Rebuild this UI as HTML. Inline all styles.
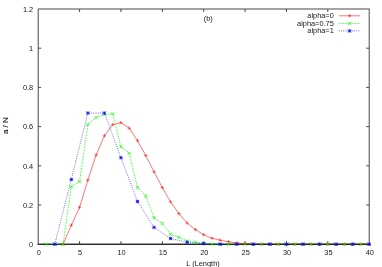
<!DOCTYPE html><html><head><meta charset="utf-8"><style>html,body{margin:0;padding:0;background:#fff;}body{width:382px;height:267px;position:relative;overflow:hidden;font-family:"Liberation Sans",sans-serif;}</style></head><body><svg width="382" height="267" viewBox="0 0 382 267" style="position:absolute;left:0;top:0;filter:blur(0.25px)">
<g stroke="#000000" stroke-width="1" fill="none" opacity="0.72">
<rect x="38.2" y="9.0" width="331.0" height="235.2"/>
<path d="M79.58 244.2v-3M79.58 9.0v3"/>
<path d="M120.95 244.2v-3M120.95 9.0v3"/>
<path d="M162.32 244.2v-3M162.32 9.0v3"/>
<path d="M203.70 244.2v-3M203.70 9.0v3"/>
<path d="M245.07 244.2v-3M245.07 9.0v3"/>
<path d="M286.45 244.2v-3M286.45 9.0v3"/>
<path d="M327.82 244.2v-3M327.82 9.0v3"/>
<path d="M38.2 205.00h3M369.2 205.00h-3"/>
<path d="M38.2 165.80h3M369.2 165.80h-3"/>
<path d="M38.2 126.60h3M369.2 126.60h-3"/>
<path d="M38.2 87.40h3M369.2 87.40h-3"/>
<path d="M38.2 48.20h3M369.2 48.20h-3"/>
</g>
<polyline points="63.03,244.20 71.30,225.19 79.58,207.35 87.85,180.11 96.12,155.02 104.40,135.81 112.68,124.64 120.95,122.68 129.23,128.17 137.50,140.71 145.78,155.49 154.05,171.88 162.32,187.56 170.60,201.86 178.88,213.62 187.15,223.03 195.43,229.60 203.70,234.67 211.98,238.18 220.25,240.20 228.53,241.71 236.80,242.97 245.07,243.61 253.35,244.20 261.62,244.20 269.90,244.20 278.18,244.20 286.45,244.20 294.73,244.20 303.00,244.20 311.27,244.20 319.55,244.20 327.82,244.20 336.10,244.20 344.38,244.20 352.65,244.20 360.93,244.20 369.20,244.20" fill="none" stroke="#ff0000" stroke-width="0.7" opacity="0.78"/>
<polyline points="46.48,244.20 54.75,244.20 63.03,244.20 71.30,186.77 79.58,181.48 87.85,124.44 96.12,117.58 104.40,114.45 112.68,113.86 120.95,146.79 129.23,153.26 137.50,187.56 145.78,196.18 154.05,217.74 162.32,223.42 170.60,234.30 178.88,237.34 187.15,241.06 195.43,242.24 203.70,243.22 211.98,244.20 220.25,244.20 228.53,244.20 236.80,244.20 245.07,244.20 253.35,244.20 261.62,244.20 269.90,244.20 278.18,244.20 286.45,244.20 294.73,244.20 303.00,244.20 311.27,244.20 319.55,244.20 327.82,244.20 336.10,244.20 344.38,244.20 352.65,244.20 360.93,244.20 369.20,244.20" fill="none" stroke="#00ff00" stroke-width="0.8" stroke-dasharray="2 1.1" opacity="0.8"/>
<polyline points="54.75,244.20 71.30,179.52 87.85,113.08 104.40,113.08 120.95,157.76 137.50,201.47 154.05,227.34 170.60,238.52 187.15,242.24 203.70,243.61 220.25,244.20 236.80,244.20 253.35,244.20 269.90,244.20 286.45,244.20 303.00,244.20 319.55,244.20 336.10,244.20 352.65,244.20 369.20,244.20" fill="none" stroke="#0000ff" stroke-width="0.9" stroke-dasharray="0.9 1.3" opacity="0.7"/>
<path d="M37.7 244.2H232.66" stroke="#000" stroke-width="1.05" opacity="0.85"/><path d="M232.66 244.2H369.7" stroke="#1a0000" stroke-width="1.15" opacity="0.9"/>
<path fill="none" stroke="#ff0000" stroke-width="0.7" opacity="0.8" d="M61.33 244.20h3.4M63.03 242.50v3.4M69.60 225.19h3.4M71.30 223.49v3.4M77.88 207.35h3.4M79.58 205.65v3.4M86.15 180.11h3.4M87.85 178.41v3.4M94.42 155.02h3.4M96.12 153.32v3.4M102.70 135.81h3.4M104.40 134.11v3.4M110.98 124.64h3.4M112.68 122.94v3.4M119.25 122.68h3.4M120.95 120.98v3.4M127.53 128.17h3.4M129.23 126.47v3.4M135.80 140.71h3.4M137.50 139.01v3.4M144.08 155.49h3.4M145.78 153.79v3.4M152.35 171.88h3.4M154.05 170.18v3.4M160.62 187.56h3.4M162.32 185.86v3.4M168.90 201.86h3.4M170.60 200.16v3.4M177.18 213.62h3.4M178.88 211.92v3.4M185.45 223.03h3.4M187.15 221.33v3.4M193.73 229.60h3.4M195.43 227.90v3.4M202.00 234.67h3.4M203.70 232.97v3.4M210.28 238.18h3.4M211.98 236.48v3.4M218.55 240.20h3.4M220.25 238.50v3.4M226.83 241.71h3.4M228.53 240.01v3.4M235.10 242.97h3.4M236.80 241.27v3.4M243.38 243.61h3.4M245.07 241.91v3.4M251.65 244.20h3.4M253.35 242.50v3.4M259.93 244.20h3.4M261.62 242.50v3.4M268.20 244.20h3.4M269.90 242.50v3.4M276.48 244.20h3.4M278.18 242.50v3.4M284.75 244.20h3.4M286.45 242.50v3.4M293.03 244.20h3.4M294.73 242.50v3.4M301.30 244.20h3.4M303.00 242.50v3.4M309.57 244.20h3.4M311.27 242.50v3.4M317.85 244.20h3.4M319.55 242.50v3.4M326.12 244.20h3.4M327.82 242.50v3.4M334.40 244.20h3.4M336.10 242.50v3.4M342.68 244.20h3.4M344.38 242.50v3.4M350.95 244.20h3.4M352.65 242.50v3.4M359.23 244.20h3.4M360.93 242.50v3.4M367.50 244.20h3.4M369.20 242.50v3.4M347.90 15.80h3.4M349.60 14.10v3.4"/>
<path fill="none" stroke="#00ff00" stroke-width="0.8" opacity="0.9" d="M44.88 242.60l3.2 3.2M44.88 245.80l3.2 -3.2M53.15 242.60l3.2 3.2M53.15 245.80l3.2 -3.2M61.43 242.60l3.2 3.2M61.43 245.80l3.2 -3.2M69.70 185.17l3.2 3.2M69.70 188.37l3.2 -3.2M77.98 179.88l3.2 3.2M77.98 183.08l3.2 -3.2M86.25 122.84l3.2 3.2M86.25 126.04l3.2 -3.2M94.53 115.98l3.2 3.2M94.53 119.18l3.2 -3.2M102.80 112.85l3.2 3.2M102.80 116.05l3.2 -3.2M111.08 112.26l3.2 3.2M111.08 115.46l3.2 -3.2M119.35 145.19l3.2 3.2M119.35 148.39l3.2 -3.2M127.63 151.66l3.2 3.2M127.63 154.86l3.2 -3.2M135.90 185.96l3.2 3.2M135.90 189.16l3.2 -3.2M144.18 194.58l3.2 3.2M144.18 197.78l3.2 -3.2M152.45 216.14l3.2 3.2M152.45 219.34l3.2 -3.2M160.72 221.82l3.2 3.2M160.72 225.02l3.2 -3.2M169.00 232.70l3.2 3.2M169.00 235.90l3.2 -3.2M177.28 235.74l3.2 3.2M177.28 238.94l3.2 -3.2M185.55 239.46l3.2 3.2M185.55 242.66l3.2 -3.2M193.83 240.64l3.2 3.2M193.83 243.84l3.2 -3.2M202.10 241.62l3.2 3.2M202.10 244.82l3.2 -3.2M210.38 242.60l3.2 3.2M210.38 245.80l3.2 -3.2M218.65 242.60l3.2 3.2M218.65 245.80l3.2 -3.2M226.93 242.60l3.2 3.2M226.93 245.80l3.2 -3.2M235.20 242.60l3.2 3.2M235.20 245.80l3.2 -3.2M243.47 242.60l3.2 3.2M243.47 245.80l3.2 -3.2M251.75 242.60l3.2 3.2M251.75 245.80l3.2 -3.2M260.02 242.60l3.2 3.2M260.02 245.80l3.2 -3.2M268.30 242.60l3.2 3.2M268.30 245.80l3.2 -3.2M276.57 242.60l3.2 3.2M276.57 245.80l3.2 -3.2M284.85 242.60l3.2 3.2M284.85 245.80l3.2 -3.2M293.12 242.60l3.2 3.2M293.12 245.80l3.2 -3.2M301.40 242.60l3.2 3.2M301.40 245.80l3.2 -3.2M309.67 242.60l3.2 3.2M309.67 245.80l3.2 -3.2M317.95 242.60l3.2 3.2M317.95 245.80l3.2 -3.2M326.22 242.60l3.2 3.2M326.22 245.80l3.2 -3.2M334.50 242.60l3.2 3.2M334.50 245.80l3.2 -3.2M342.77 242.60l3.2 3.2M342.77 245.80l3.2 -3.2M351.05 242.60l3.2 3.2M351.05 245.80l3.2 -3.2M359.32 242.60l3.2 3.2M359.32 245.80l3.2 -3.2M367.60 242.60l3.2 3.2M367.60 245.80l3.2 -3.2M348.00 21.80l3.2 3.2M348.00 25.00l3.2 -3.2"/>
<path fill="none" stroke="#0000ff" stroke-width="0.8" opacity="0.95" d="M53.15 242.60l3.2 3.2M53.15 245.80l3.2 -3.2M53.05 244.20h3.4M54.75 242.50v3.4M69.70 177.92l3.2 3.2M69.70 181.12l3.2 -3.2M69.60 179.52h3.4M71.30 177.82v3.4M86.25 111.48l3.2 3.2M86.25 114.68l3.2 -3.2M86.15 113.08h3.4M87.85 111.38v3.4M102.80 111.48l3.2 3.2M102.80 114.68l3.2 -3.2M102.70 113.08h3.4M104.40 111.38v3.4M119.35 156.16l3.2 3.2M119.35 159.36l3.2 -3.2M119.25 157.76h3.4M120.95 156.06v3.4M135.90 199.87l3.2 3.2M135.90 203.07l3.2 -3.2M135.80 201.47h3.4M137.50 199.77v3.4M152.45 225.74l3.2 3.2M152.45 228.94l3.2 -3.2M152.35 227.34h3.4M154.05 225.64v3.4M169.00 236.92l3.2 3.2M169.00 240.12l3.2 -3.2M168.90 238.52h3.4M170.60 236.82v3.4M185.55 240.64l3.2 3.2M185.55 243.84l3.2 -3.2M185.45 242.24h3.4M187.15 240.54v3.4M202.10 242.01l3.2 3.2M202.10 245.21l3.2 -3.2M202.00 243.61h3.4M203.70 241.91v3.4M218.65 242.60l3.2 3.2M218.65 245.80l3.2 -3.2M218.55 244.20h3.4M220.25 242.50v3.4M235.20 242.60l3.2 3.2M235.20 245.80l3.2 -3.2M235.10 244.20h3.4M236.80 242.50v3.4M251.75 242.60l3.2 3.2M251.75 245.80l3.2 -3.2M251.65 244.20h3.4M253.35 242.50v3.4M268.30 242.60l3.2 3.2M268.30 245.80l3.2 -3.2M268.20 244.20h3.4M269.90 242.50v3.4M284.85 242.60l3.2 3.2M284.85 245.80l3.2 -3.2M284.75 244.20h3.4M286.45 242.50v3.4M301.40 242.60l3.2 3.2M301.40 245.80l3.2 -3.2M301.30 244.20h3.4M303.00 242.50v3.4M317.95 242.60l3.2 3.2M317.95 245.80l3.2 -3.2M317.85 244.20h3.4M319.55 242.50v3.4M334.50 242.60l3.2 3.2M334.50 245.80l3.2 -3.2M334.40 244.20h3.4M336.10 242.50v3.4M351.05 242.60l3.2 3.2M351.05 245.80l3.2 -3.2M350.95 244.20h3.4M352.65 242.50v3.4M367.60 242.60l3.2 3.2M367.60 245.80l3.2 -3.2M367.50 244.20h3.4M369.20 242.50v3.4M348.00 29.30l3.2 3.2M348.00 32.50l3.2 -3.2M347.90 30.90h3.4M349.60 29.20v3.4"/>
<path d="M338.8 15.8H360.4" stroke="#ff0000" stroke-width="0.7" opacity="0.78"/>
<path d="M338.8 23.4H360.4" stroke="#00ff00" stroke-width="0.8" stroke-dasharray="2 1.1" opacity="0.8"/>
<path d="M338.8 30.9H360.4" stroke="#0000ff" stroke-width="0.9" stroke-dasharray="0.9 1.3" opacity="0.7"/>
<g font-family="Liberation Sans, sans-serif" font-size="7.4" fill="#000" opacity="0.92">
<text transform="translate(38.80 254.90) scale(1 1.08)" text-anchor="middle">0</text>
<text transform="translate(80.17 254.90) scale(1 1.08)" text-anchor="middle">5</text>
<text transform="translate(121.55 254.90) scale(1 1.08)" text-anchor="middle">10</text>
<text transform="translate(162.92 254.90) scale(1 1.08)" text-anchor="middle">15</text>
<text transform="translate(204.30 254.90) scale(1 1.08)" text-anchor="middle">20</text>
<text transform="translate(245.67 254.90) scale(1 1.08)" text-anchor="middle">25</text>
<text transform="translate(287.05 254.90) scale(1 1.08)" text-anchor="middle">30</text>
<text transform="translate(328.43 254.90) scale(1 1.08)" text-anchor="middle">35</text>
<text transform="translate(369.80 254.90) scale(1 1.08)" text-anchor="middle">40</text>
<text transform="translate(33.20 247.00) scale(1 1.08)" text-anchor="end">0</text>
<text transform="translate(33.20 207.80) scale(1 1.08)" text-anchor="end">0.2</text>
<text transform="translate(33.20 168.60) scale(1 1.08)" text-anchor="end">0.4</text>
<text transform="translate(33.20 129.40) scale(1 1.08)" text-anchor="end">0.6</text>
<text transform="translate(33.20 90.20) scale(1 1.08)" text-anchor="end">0.8</text>
<text transform="translate(33.20 51.00) scale(1 1.08)" text-anchor="end">1</text>
<text transform="translate(33.20 11.80) scale(1 1.08)" text-anchor="end">1.2</text>
<text transform="translate(333.80 18.20) scale(1 1.08)" text-anchor="end">alpha=0</text>
<text transform="translate(333.80 25.80) scale(1 1.08)" text-anchor="end">alpha=0.75</text>
<text transform="translate(333.80 33.30) scale(1 1.08)" text-anchor="end">alpha=1</text>
<text transform="translate(203.70 21.20) scale(1 1.08)" text-anchor="start">(b)</text>
<text transform="translate(203.00 265.80) scale(1 1.08)" text-anchor="middle">L (Length)</text>
<text transform="translate(7.9 125.6) rotate(-90) scale(1.08 1)" text-anchor="middle" stroke="#000" stroke-width="0.15">a / N</text>
</g>
</svg></body></html>
